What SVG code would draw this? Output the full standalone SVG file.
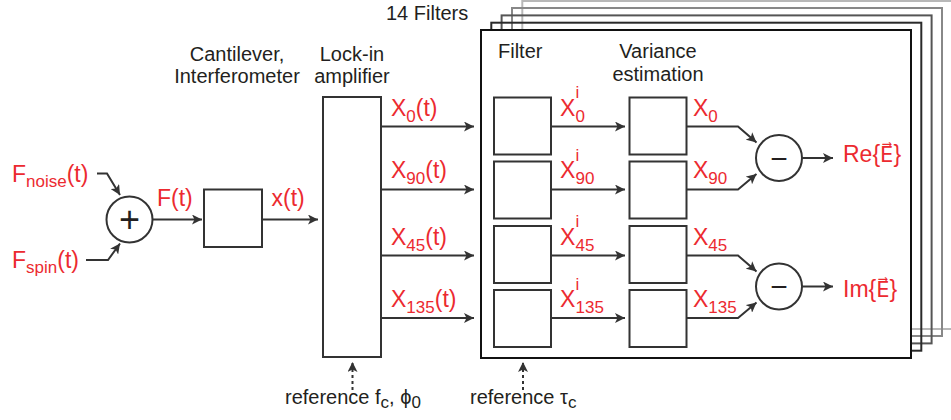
<svg xmlns="http://www.w3.org/2000/svg" width="951" height="420" viewBox="0 0 951 420">
<defs>
<style>
.lbl{font-family:"Liberation Sans",Arial,sans-serif;font-size:20px;fill:#231f20}
.mid{text-anchor:middle}
.red{font-family:"Liberation Sans",Arial,sans-serif;font-size:23px;fill:#ec2a30}
.s{font-size:17px}
.vec{font-family:"DejaVu Sans",sans-serif;font-size:21px}
.box{fill:#fff;stroke:#333;stroke-width:2}
.ln{fill:none;stroke:#333;stroke-width:2}
.dash{fill:none;stroke:#333;stroke-width:2;stroke-dasharray:3 3}
.op{font-family:"Liberation Sans",Arial,sans-serif;fill:#231f20;text-anchor:middle}
</style>
<marker id="ah" markerWidth="11" markerHeight="10" refX="10" refY="5" orient="auto" markerUnits="userSpaceOnUse">
<path d="M0,0 L10,5 L0,10 L2.5,5 z" fill="#333"/>
</marker>
</defs>
<rect width="951" height="420" fill="#fff"/>

<g id="stack">
<rect x="522.3" y="1" width="430" height="328" fill="none" stroke="#b8b8b8" stroke-width="2"/>
<rect x="512" y="8" width="430" height="328" fill="none" stroke="#888" stroke-width="2"/>
<rect x="501.6" y="15.4" width="430" height="328" fill="none" stroke="#555" stroke-width="2"/>
<rect x="491.3" y="22.7" width="430" height="328" fill="none" stroke="#2a2a2a" stroke-width="2"/>
<rect x="481" y="30" width="430" height="328" fill="#fff" stroke="#111" stroke-width="2"/>
<text class="lbl" x="386" y="20">14 Filters</text>
<text class="lbl" x="498" y="58">Filter</text>
<text class="lbl mid" x="658" y="58">Variance</text>
<text class="lbl mid" x="658" y="81">estimation</text>
</g>

<g id="inputs">
<text class="red" x="12" y="181.5">F<tspan class="s" dy="5">noise</tspan><tspan dy="-5">(t)</tspan></text>
<text class="red" x="12" y="268">F<tspan class="s" dy="5">spin</tspan><tspan dy="-5">(t)</tspan></text>
</g>

<g id="sum">
<circle cx="129.5" cy="219.5" r="23" fill="#fff" stroke="#333" stroke-width="2"/>
<text class="op" x="129.5" y="232" font-size="36">+</text>
</g>

<g id="cantilever">
<rect class="box" x="204" y="189.5" width="58" height="57.5"/>
<text class="lbl mid" x="237" y="60.5">Cantilever,</text>
<text class="lbl mid" x="237" y="83">Interferometer</text>
</g>

<g id="lockin">
<rect class="box" x="323" y="97" width="58" height="260"/>
<text class="lbl mid" x="352" y="60.5">Lock-in</text>
<text class="lbl mid" x="352" y="83">amplifier</text>
<text class="lbl" x="285" y="404">reference f<tspan class="s" dy="4">c</tspan><tspan dy="-4">, ϕ</tspan><tspan class="s" dy="4">0</tspan></text>
</g>

<g id="filters">
<rect class="box" x="494" y="97.5" width="57" height="57"/>
<rect class="box" x="494" y="161.5" width="57" height="57"/>
<rect class="box" x="494" y="226" width="57" height="57"/>
<rect class="box" x="494" y="290" width="57" height="57"/>
<text class="lbl" x="470" y="404">reference τ<tspan class="s" dy="4">c</tspan></text>
</g>

<g id="variance">
<rect class="box" x="629.5" y="97.5" width="57" height="57"/>
<rect class="box" x="629.5" y="161.5" width="57" height="57"/>
<rect class="box" x="629.5" y="226" width="57" height="57"/>
<rect class="box" x="629.5" y="290" width="57" height="57"/>
</g>

<g id="diffRe">
<circle cx="779" cy="158" r="23" fill="#fff" stroke="#333" stroke-width="2"/>
<text class="op" x="779" y="168.5" font-size="30">−</text>
<text class="red" x="843" y="162">Re{<tspan class="vec">E⃗</tspan>}</text>
</g>

<g id="diffIm">
<circle cx="779" cy="286.5" r="23" fill="#fff" stroke="#333" stroke-width="2"/>
<text class="op" x="779" y="297" font-size="30">−</text>
<text class="red" x="843" y="297">Im{<tspan class="vec">E⃗</tspan>}</text>
</g>

<g id="connectors">
<path class="ln" d="M97,173.5 H107 L120,195" marker-end="url(#ah)"/>
<path class="ln" d="M86,260 H108 L120,243.5" marker-end="url(#ah)"/>
<path class="ln" d="M152.5,219.5 H202" marker-end="url(#ah)"/>
<path class="ln" d="M262,219.5 H318" marker-end="url(#ah)"/>
<path class="ln" d="M381,126.5 H474" marker-end="url(#ah)"/>
<path class="ln" d="M381,189.5 H474" marker-end="url(#ah)"/>
<path class="ln" d="M381,255.5 H474" marker-end="url(#ah)"/>
<path class="ln" d="M381,318 H474" marker-end="url(#ah)"/>
<path class="ln" d="M551,126.5 H625" marker-end="url(#ah)"/>
<path class="ln" d="M551,189.5 H625" marker-end="url(#ah)"/>
<path class="ln" d="M551,255.5 H625" marker-end="url(#ah)"/>
<path class="ln" d="M551,318 H625" marker-end="url(#ah)"/>
<path class="ln" d="M686.5,126.5 H738 L756.5,142.5" marker-end="url(#ah)"/>
<path class="ln" d="M686.5,189.5 H738 L756.5,174" marker-end="url(#ah)"/>
<path class="ln" d="M686.5,255.5 H738 L756.5,271.5" marker-end="url(#ah)"/>
<path class="ln" d="M686.5,318 H738 L756.5,302.5" marker-end="url(#ah)"/>
<path class="ln" d="M802,158 H833" marker-end="url(#ah)"/>
<path class="ln" d="M802,286.5 H833" marker-end="url(#ah)"/>
<path class="dash" d="M352.5,390 V362" marker-end="url(#ah)"/>
<path class="dash" d="M523,390 V362" marker-end="url(#ah)"/>
</g>

<g id="signals">
<text class="red" x="157" y="206">F(t)</text>
<text class="red" x="271.5" y="206">x(t)</text>
<text class="red" x="391" y="115.5">X<tspan class="s" dy="6">0</tspan><tspan dy="-6">(t)</tspan></text>
<text class="red" x="391" y="178">X<tspan class="s" dy="6">90</tspan><tspan dy="-6">(t)</tspan></text>
<text class="red" x="391" y="244.5">X<tspan class="s" dy="6">45</tspan><tspan dy="-6">(t)</tspan></text>
<text class="red" x="391" y="307">X<tspan class="s" dy="6">135</tspan><tspan dy="-6">(t)</tspan></text>
<text class="red" x="560" y="115.5">X<tspan class="s" x="575.5" dy="6">0</tspan><tspan class="s" x="575.5" y="98">i</tspan></text>
<text class="red" x="560" y="178">X<tspan class="s" x="575.5" dy="6">90</tspan><tspan class="s" x="575.5" y="160.5">i</tspan></text>
<text class="red" x="560" y="244.5">X<tspan class="s" x="575.5" dy="6">45</tspan><tspan class="s" x="575.5" y="227">i</tspan></text>
<text class="red" x="560" y="307">X<tspan class="s" x="575.5" dy="6">135</tspan><tspan class="s" x="575.5" y="289.5">i</tspan></text>
<text class="red" x="693" y="115.5">X<tspan class="s" dy="6">0</tspan></text>
<text class="red" x="693" y="178">X<tspan class="s" dy="6">90</tspan></text>
<text class="red" x="693" y="244.5">X<tspan class="s" dy="6">45</tspan></text>
<text class="red" x="693" y="307">X<tspan class="s" dy="6">135</tspan></text>
</g>
</svg>
